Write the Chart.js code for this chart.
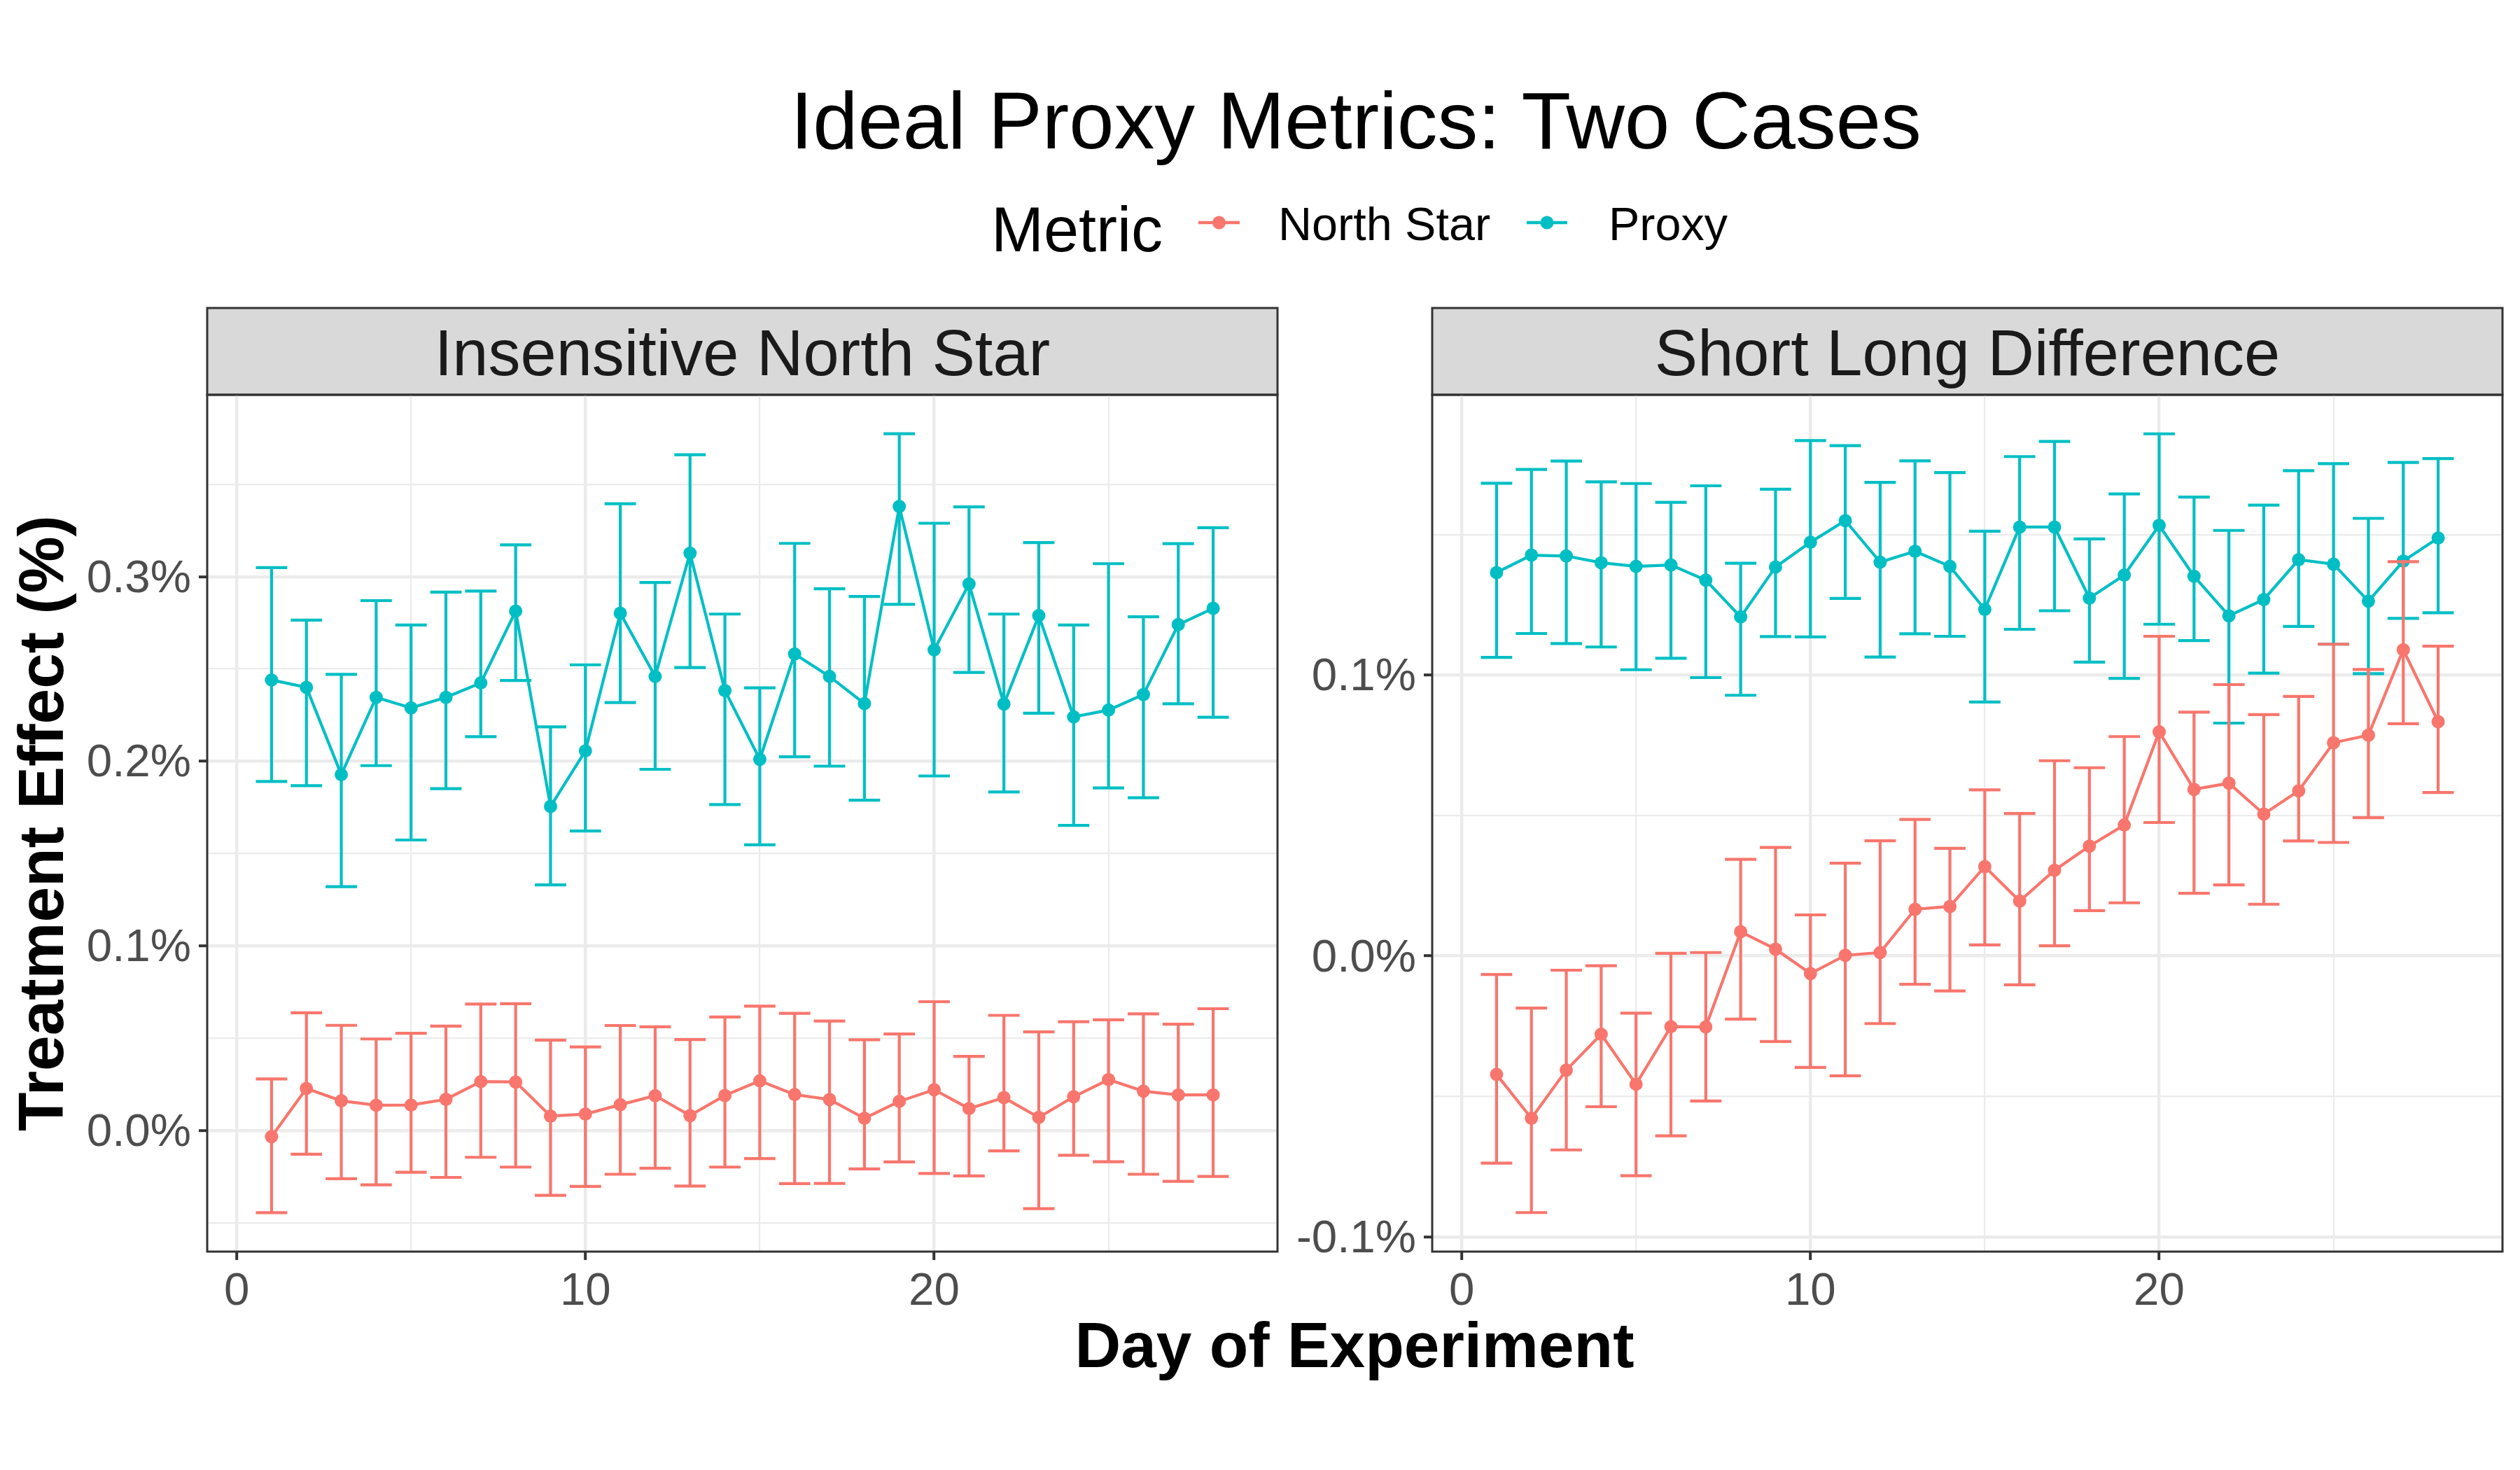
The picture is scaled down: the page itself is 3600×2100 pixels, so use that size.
<!DOCTYPE html>
<html>
<head>
<meta charset="utf-8">
<script src="https://cdn.jsdelivr.net/npm/chart.js@4.4.1/dist/chart.umd.min.js"></script>
<style>
  html, body { margin: 0; padding: 0; background: #ffffff; }
  body { width: 3600px; height: 2100px; position: relative; overflow: hidden; }
  #overlay { position: absolute; left: 0; top: 0; z-index: 0; }
  canvas { position: absolute; z-index: 1; }
  #cLeft { left: 0px; top: 504px; }
  #cRight { left: 1850px; top: 504px; }
</style>
</head>
<body>
<svg id="overlay" width="3600" height="2100" xmlns="http://www.w3.org/2000/svg" font-family="'Liberation Sans', Arial, Helvetica, sans-serif">
  <text x="1937" y="212" text-anchor="middle" font-size="115.5" fill="#000000">Ideal Proxy Metrics: Two Cases</text>
  <!-- legend -->
  <text x="1416" y="359" font-size="90" fill="#000000">Metric</text>
  <line x1="1712" y1="318" x2="1771" y2="318" stroke="#F8766D" stroke-width="4.4"/>
  <circle cx="1741.5" cy="318" r="9.5" fill="#F8766D"/>
  <text x="1826" y="343" font-size="66.5" fill="#000000">North Star</text>
  <line x1="2181" y1="318" x2="2239" y2="318" stroke="#00BFC4" stroke-width="4.4"/>
  <circle cx="2210" cy="318" r="9.5" fill="#00BFC4"/>
  <text x="2298" y="343" font-size="66.5" fill="#000000">Proxy</text>
  <!-- strips -->
  <rect x="296" y="440" width="1529" height="124" fill="#D9D9D9" stroke="#333333" stroke-width="3"/>
  <text x="1060.5" y="536" text-anchor="middle" font-size="92" fill="#1A1A1A">Insensitive North Star</text>
  <rect x="2046" y="440" width="1529" height="124" fill="#D9D9D9" stroke="#333333" stroke-width="3"/>
  <text x="2810.5" y="536" text-anchor="middle" font-size="92" fill="#1A1A1A">Short Long Difference</text>
  <!-- axis titles -->
  <text x="1935" y="1953" text-anchor="middle" font-size="91" font-weight="bold" fill="#000000">Day of Experiment</text>
  <text x="0" y="0" transform="translate(90,1176) rotate(-90)" text-anchor="middle" font-size="91" font-weight="bold" fill="#000000">Treatment Effect (%)</text>
</svg>
<canvas id="cLeft" width="1840" height="1376"></canvas>
<canvas id="cRight" width="1750" height="1376"></canvas>
<script>
// ---------------- data ----------------
const days = [1,2,3,4,5,6,7,8,9,10,11,12,13,14,15,16,17,18,19,20,21,22,23,24,25,26,27,28];
const seriesNames = ["North Star", "Proxy"];
const panelTitles = ["Insensitive North Star", "Short Long Difference"];

// Panel 1: Insensitive North Star (values in %)
const insNorthStar     = [-0.0034,0.0227,0.0160,0.0136,0.0137,0.0168,0.0264,0.0262,0.0077,0.0088,0.0139,0.0188,0.0080,0.0189,0.0268,0.0194,0.0167,0.0065,0.0157,0.0220,0.0118,0.0177,0.0070,0.0182,0.0275,0.0212,0.0192,0.0192];
const insNorthStarLow  = [-0.0446,-0.0129,-0.0262,-0.0295,-0.0227,-0.0255,-0.0146,-0.0199,-0.0352,-0.0304,-0.0238,-0.0205,-0.0302,-0.0199,-0.0153,-0.0289,-0.0288,-0.0209,-0.0171,-0.0234,-0.0247,-0.0111,-0.0424,-0.0135,-0.0170,-0.0238,-0.0276,-0.0250];
const insNorthStarHigh = [0.0278,0.0637,0.0569,0.0495,0.0526,0.0565,0.0684,0.0686,0.0489,0.0452,0.0568,0.0561,0.0492,0.0614,0.0673,0.0634,0.0592,0.0491,0.0522,0.0697,0.0401,0.0623,0.0533,0.0588,0.0599,0.0631,0.0575,0.0659];
const insProxy         = [0.2440,0.2400,0.1927,0.2346,0.2289,0.2346,0.2424,0.2813,0.1755,0.2056,0.2802,0.2459,0.3127,0.2383,0.2010,0.2581,0.2459,0.2312,0.3380,0.2603,0.2960,0.2310,0.2789,0.2240,0.2277,0.2361,0.2740,0.2828];
const insProxyLow      = [0.1890,0.1867,0.1320,0.1976,0.1573,0.1851,0.2133,0.2437,0.1330,0.1622,0.2318,0.1956,0.2507,0.1765,0.1547,0.2024,0.1973,0.1789,0.2850,0.1920,0.2481,0.1833,0.2260,0.1652,0.1855,0.1802,0.2311,0.2238];
const insProxyHigh     = [0.3049,0.2764,0.2470,0.2870,0.2738,0.2916,0.2922,0.3172,0.2186,0.2522,0.3395,0.2968,0.3660,0.2797,0.2397,0.3180,0.2934,0.2892,0.3774,0.3289,0.3378,0.2797,0.3184,0.2738,0.3070,0.2782,0.3179,0.3265];

// Panel 2: Short Long Difference (values in %)
const slNorthStar      = [-0.0422,-0.0578,-0.0407,-0.0279,-0.0457,-0.0252,-0.0253,0.0086,0.0024,-0.0063,0.0002,0.0012,0.0166,0.0176,0.0318,0.0195,0.0305,0.0391,0.0466,0.0798,0.0593,0.0615,0.0505,0.0588,0.0759,0.0786,0.1090,0.0834];
const slNorthStarLow   = [-0.0738,-0.0914,-0.0691,-0.0537,-0.0783,-0.0641,-0.0517,-0.0225,-0.0305,-0.0397,-0.0427,-0.0241,-0.0101,-0.0125,0.0039,-0.0103,0.0036,0.0161,0.0189,0.0475,0.0223,0.0253,0.0184,0.0409,0.0404,0.0492,0.0827,0.0582];
const slNorthStarHigh  = [-0.0066,-0.0186,-0.0051,-0.0035,-0.0204,0.0009,0.0012,0.0344,0.0386,0.0146,0.0330,0.0410,0.0486,0.0383,0.0591,0.0507,0.0695,0.0670,0.0781,0.1138,0.0868,0.0966,0.0859,0.0924,0.1110,0.1020,0.1404,0.1103];
const slProxy          = [0.1365,0.1427,0.1424,0.1400,0.1387,0.1392,0.1338,0.1207,0.1385,0.1473,0.1550,0.1402,0.1441,0.1387,0.1234,0.1527,0.1527,0.1274,0.1356,0.1533,0.1352,0.1211,0.1269,0.1411,0.1395,0.1263,0.1406,0.1488];
const slProxyLow       = [0.1063,0.1148,0.1112,0.1100,0.1019,0.1060,0.0991,0.0928,0.1137,0.1136,0.1273,0.1064,0.1147,0.1138,0.0904,0.1163,0.1229,0.1046,0.0988,0.1181,0.1123,0.0829,0.1007,0.1173,0.1110,0.1005,0.1202,0.1222];
const slProxyHigh      = [0.1683,0.1732,0.1762,0.1688,0.1682,0.1615,0.1674,0.1398,0.1662,0.1835,0.1817,0.1686,0.1763,0.1721,0.1512,0.1778,0.1832,0.1485,0.1645,0.1859,0.1634,0.1515,0.1605,0.1728,0.1753,0.1558,0.1757,0.1771];

// tick values
const xMajorTicks = [0, 10, 20];
const xMinorTicks = [5, 15, 25];
const insYMajorTicks = [0.0, 0.1, 0.2, 0.3];
const insYMinorTicks = [-0.05, 0.05, 0.15, 0.25, 0.35];
const slYMajorTicks = [-0.1, 0.0, 0.1];
const slYMinorTicks = [-0.05, 0.05, 0.15];

// ---------------- styling ----------------
const COLORS = ["#F8766D", "#00BFC4"];
const FONT = "'Liberation Sans', Arial, Helvetica, sans-serif";
const GRID = "#EBEBEB";
const DARK = "#333333";
const CAP_HALF = 0.45; // errorbar cap half width in x units

Chart.defaults.font.family = FONT;

function isMajor(v, majors) {
  return majors.some(m => Math.abs(m - v) < 1e-9);
}

const errorBarPlugin = {
  id: 'errorBars',
  afterDatasetDraw(chart, args) {
    const ds = chart.data.datasets[args.index];
    if (!ds.errLow) return;
    const xs = chart.scales.x, ys = chart.scales.y;
    const ctx = chart.ctx;
    const area = chart.chartArea;
    ctx.save();
    ctx.beginPath();
    ctx.rect(area.left, area.top, area.right - area.left, area.bottom - area.top);
    ctx.clip();
    ctx.strokeStyle = ds.borderColor;
    ctx.lineWidth = ds.borderWidth;
    ctx.lineCap = 'butt';
    ds.data.forEach((pt, i) => {
      const x = xs.getPixelForValue(pt.x);
      const xl = xs.getPixelForValue(pt.x - CAP_HALF);
      const xr = xs.getPixelForValue(pt.x + CAP_HALF);
      const yl = ys.getPixelForValue(ds.errLow[i]);
      const yh = ys.getPixelForValue(ds.errHigh[i]);
      ctx.beginPath();
      ctx.moveTo(x, yl); ctx.lineTo(x, yh);
      ctx.moveTo(xl, yl); ctx.lineTo(xr, yl);
      ctx.moveTo(xl, yh); ctx.lineTo(xr, yh);
      ctx.stroke();
    });
    ctx.restore();
  }
};

const borderPlugin = {
  id: 'panelBorder',
  afterDraw(chart) {
    const a = chart.chartArea;
    const ctx = chart.ctx;
    ctx.save();
    ctx.strokeStyle = DARK;
    ctx.lineWidth = 3;
    ctx.strokeRect(a.left, a.top, a.right - a.left, a.bottom - a.top);
    ctx.restore();
  }
};

function makeDataset(name, color, vals, lo, hi) {
  return {
    label: name,
    data: days.map((d, i) => ({ x: d, y: vals[i] })),
    errLow: lo,
    errHigh: hi,
    borderColor: color,
    backgroundColor: color,
    borderWidth: 4.2,
    pointRadius: 9.5,
    pointHoverRadius: 9.5,
    pointBorderWidth: 0,
    pointBackgroundColor: color,
    tension: 0,
    fill: false,
    clip: false
  };
}

function makeChart(canvasId, datasets, yMin, yMax, yMajor, yMinor, yAxisWidth, padRight) {
  const xAll = xMajorTicks.concat(xMinorTicks).sort((a, b) => a - b);
  const yAll = yMajor.concat(yMinor).sort((a, b) => a - b);
  return new Chart(document.getElementById(canvasId), {
    type: 'line',
    data: { datasets },
    plugins: [errorBarPlugin, borderPlugin],
    options: {
      responsive: false,
      animation: false,
      devicePixelRatio: 1,
      layout: { padding: { top: 60, right: padRight, bottom: 0, left: 0 } },
      plugins: { legend: { display: false }, tooltip: { enabled: false }, title: { display: false } },
      scales: {
        x: {
          type: 'linear',
          min: -0.845,
          max: 29.845,
          afterBuildTicks: (s) => { s.ticks = xAll.map(v => ({ value: v })); },
          afterFit: (s) => { s.height = 1376 - 60 - 1224; },
          border: { display: false },
          grid: {
            color: GRID,
            lineWidth: (c) => isMajor(c.tick.value, xMajorTicks) ? 4.4 : 2.2,
            drawTicks: true,
            tickLength: 12,
            tickWidth: 4,
            tickColor: (c) => isMajor(c.tick.value, xMajorTicks) ? DARK : 'rgba(0,0,0,0)'
          },
          ticks: {
            autoSkip: false,
            maxRotation: 0,
            padding: 7,
            color: '#4D4D4D',
            font: { family: FONT, size: 65.5 },
            callback: (v) => isMajor(v, xMajorTicks) ? String(v) : ''
          }
        },
        y: {
          type: 'linear',
          min: yMin,
          max: yMax,
          afterBuildTicks: (s) => { s.ticks = yAll.map(v => ({ value: v })); },
          afterFit: (s) => { s.width = yAxisWidth; },
          border: { display: false },
          grid: {
            color: GRID,
            lineWidth: (c) => isMajor(c.tick.value, yMajor) ? 4.4 : 2.2,
            drawTicks: true,
            tickLength: 12,
            tickWidth: 4,
            tickColor: (c) => isMajor(c.tick.value, yMajor) ? DARK : 'rgba(0,0,0,0)'
          },
          ticks: {
            autoSkip: false,
            padding: 11,
            labelOffset: 4,
            color: '#4D4D4D',
            font: { family: FONT, size: 65.5 },
            callback: (v) => isMajor(v, yMajor) ? v.toFixed(1) + '%' : ''
          }
        }
      }
    }
  });
}

makeChart('cLeft', [
  makeDataset(seriesNames[0], COLORS[0], insNorthStar, insNorthStarLow, insNorthStarHigh),
  makeDataset(seriesNames[1], COLORS[1], insProxy, insProxyLow, insProxyHigh)
], -0.0657, 0.3985, insYMajorTicks, insYMinorTicks, 296, 15);

makeChart('cRight', [
  makeDataset(seriesNames[0], COLORS[0], slNorthStar, slNorthStarLow, slNorthStarHigh),
  makeDataset(seriesNames[1], COLORS[1], slProxy, slProxyLow, slProxyHigh)
], -0.1053, 0.1998, slYMajorTicks, slYMinorTicks, 196, 25);
</script>
</body>
</html>
